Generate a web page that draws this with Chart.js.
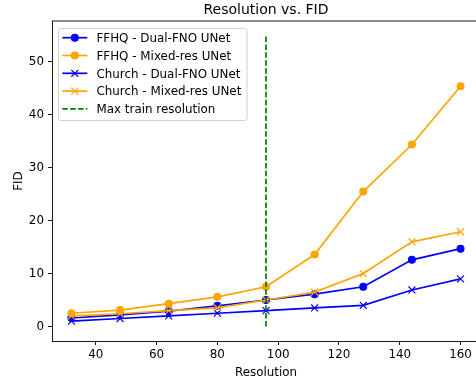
<!DOCTYPE html>
<html><head><meta charset="utf-8">
<script src="https://cdn.jsdelivr.net/npm/chart.js@4/dist/chart.umd.min.js"></script>
<style>html,body{margin:0;padding:0;background:#fff;overflow:hidden}#wrap{width:476px;height:381px;overflow:hidden;position:relative;background:#fff}canvas{display:block}</style>
</head><body><div id="wrap"><canvas id="c" width="490" height="381"></canvas></div>
<script>
const resolutions = [32, 48, 64, 80, 96, 112, 128, 144, 160];
const ffhqDualFNO = [1.6, 2.2, 2.9, 3.9, 5.0, 6.1, 7.5, 12.6, 14.7];
const ffhqMixedRes = [2.5, 3.1, 4.3, 5.6, 7.5, 13.6, 25.5, 34.4, 45.4];
const churchDualFNO = [1.0, 1.5, 2.0, 2.5, 3.0, 3.5, 4.0, 6.9, 9.0];
const churchMixedRes = [2.0, 2.4, 3.0, 3.5, 5.0, 6.5, 10.0, 16.0, 17.9];
const maxTrainRes = 96;
const maxTrainLineY = [0, 55];
const xTicks = [40, 60, 80, 100, 120, 140, 160];
const yTicks = [0, 10, 20, 30, 40, 50];
const labels = ['FFHQ - Dual-FNO UNet', 'FFHQ - Mixed-res UNet', 'Church - Dual-FNO UNet', 'Church - Mixed-res UNet', 'Max train resolution'];
const titleText = 'Resolution vs. FID';
const xTitle = 'Resolution';
const yTitle = 'FID';

const BLUE = '#0000ff', ORANGE = '#ffa500', GREEN = '#008000';
const FONT = 'DejaVu Sans';
const LW = 1.7;
const SMALL = 11.9, BIG = 14;

function pts(ys) { return resolutions.map((x, i) => ({ x: x, y: ys[i] })); }

function series(label, ys, color, marker, order) {
  const isCircle = marker === 'circle';
  return {
    label: label, data: pts(ys), borderColor: color, backgroundColor: color,
    borderWidth: LW, fill: false, tension: 0, order: order,
    pointStyle: isCircle ? 'circle' : 'crossRot',
    pointRadius: isCircle ? 3.45 : 4.9, pointHoverRadius: isCircle ? 3.45 : 4.9,
    pointBorderWidth: isCircle ? 1.15 : 1.2, pointHoverBorderWidth: isCircle ? 1.15 : 1.2,
    pointBackgroundColor: color, pointBorderColor: color,
    _marker: marker
  };
}

const datasets = [
  series(labels[0], ffhqDualFNO, BLUE, 'circle', 4),
  series(labels[1], ffhqMixedRes, ORANGE, 'circle', 3),
  series(labels[2], churchDualFNO, BLUE, 'x', 2),
  series(labels[3], churchMixedRes, ORANGE, 'x', 1),
  {
    label: labels[4], data: maxTrainLineY.map(y => ({ x: maxTrainRes, y: y })),
    borderColor: GREEN, borderWidth: LW, borderDash: [5.5, 2.4], pointRadius: 0, pointHoverRadius: 0,
    fill: false, order: 0, _marker: 'none'
  }
];

function drawMarker(ctx, kind, x, y, color) {
  ctx.save();
  if (kind === 'circle') {
    ctx.fillStyle = color; ctx.strokeStyle = color; ctx.lineWidth = 1.15;
    ctx.beginPath(); ctx.arc(x, y, 3.45, 0, Math.PI * 2); ctx.fill(); ctx.stroke();
  } else if (kind === 'x') {
    const r = 3.45;
    ctx.strokeStyle = color; ctx.lineWidth = 1.2;
    ctx.beginPath(); ctx.moveTo(x - r, y - r); ctx.lineTo(x + r, y + r);
    ctx.moveTo(x - r, y + r); ctx.lineTo(x + r, y - r); ctx.stroke();
  }
  ctx.restore();
}

const decor = {
  id: 'decor',
  afterDraw(chart) {
    const ctx = chart.ctx, a = chart.chartArea;
    ctx.save();
    ctx.strokeStyle = '#000'; ctx.lineWidth = 0.9;
    ctx.beginPath(); ctx.moveTo(a.left, a.top); ctx.lineTo(a.right, a.top); ctx.lineTo(a.right, a.bottom); ctx.stroke();
    ctx.fillStyle = '#000';
    ctx.font = BIG + 'px "' + FONT + '"';
    ctx.textAlign = 'center'; ctx.textBaseline = 'alphabetic';
    ctx.fillText(titleText, (a.left + a.right) / 2, 13.8);
    ctx.font = SMALL + 'px "' + FONT + '"';
    ctx.fillText(xTitle, (a.left + a.right) / 2, 375.8);
    ctx.save();
    ctx.translate(21.8, (a.top + a.bottom) / 2);
    ctx.rotate(-Math.PI / 2);
    ctx.fillText(yTitle, 0, 0);
    ctx.restore();
    const bx = 58.5, by = 28.5, bw = 188.5, bh = 92;
    ctx.fillStyle = 'rgba(255,255,255,0.8)'; ctx.strokeStyle = '#cccccc'; ctx.lineWidth = 0.9;
    ctx.beginPath();
    if (ctx.roundRect) ctx.roundRect(bx, by, bw, bh, 2.5); else ctx.rect(bx, by, bw, bh);
    ctx.fill(); ctx.stroke();
    const rowY = [37.7, 55.5, 73.3, 91.1, 108.9];
    chart.data.datasets.forEach((ds, i) => {
      const y = rowY[i];
      ctx.save();
      ctx.strokeStyle = ds.borderColor; ctx.lineWidth = LW;
      ctx.setLineDash(ds.borderDash || []);
      ctx.beginPath(); ctx.moveTo(62.3, y); ctx.lineTo(87.3, y); ctx.stroke();
      ctx.restore();
      drawMarker(ctx, ds._marker, 74.8, y, ds.borderColor);
      ctx.fillStyle = '#000'; ctx.textAlign = 'left'; ctx.textBaseline = 'alphabetic';
      ctx.font = SMALL + 'px "' + FONT + '"';
      ctx.fillText(ds.label, 96.5, y + 4.3);
    });
    ctx.restore();
  }
};

const tickFont = { family: FONT, size: SMALL };
new Chart(document.getElementById('c'), {
  type: 'line',
  data: { datasets: datasets },
  plugins: [decor],
  options: {
    responsive: false, animation: false, devicePixelRatio: 1,
    layout: { padding: { top: 21, right: 10, left: 0, bottom: 0 } },
    plugins: { legend: { display: false }, tooltip: { enabled: false }, title: { display: false } },
    events: [],
    scales: {
      x: {
        type: 'linear', min: 25.6, max: 166.4,
        afterBuildTicks: s => { s.ticks = xTicks.map(v => ({ value: v })); },
        afterFit: s => { s.height = 40; },
        grid: { drawOnChartArea: false, drawTicks: true, tickLength: 4, color: '#000', lineWidth: 0.9 },
        border: { display: true, color: '#000', width: 0.9 },
        ticks: { color: '#000', font: tickFont, padding: 3, maxRotation: 0, autoSkip: false }
      },
      y: {
        type: 'linear', min: -2.75, max: 57.75,
        afterBuildTicks: s => { s.ticks = yTicks.map(v => ({ value: v })); },
        afterFit: s => { s.width = 52; },
        grid: { drawOnChartArea: false, drawTicks: true, tickLength: 4, color: '#000', lineWidth: 0.9 },
        border: { display: true, color: '#000', width: 0.9 },
        ticks: { color: '#000', font: tickFont, padding: 4, autoSkip: false }
      }
    }
  }
});
</script></body></html>
